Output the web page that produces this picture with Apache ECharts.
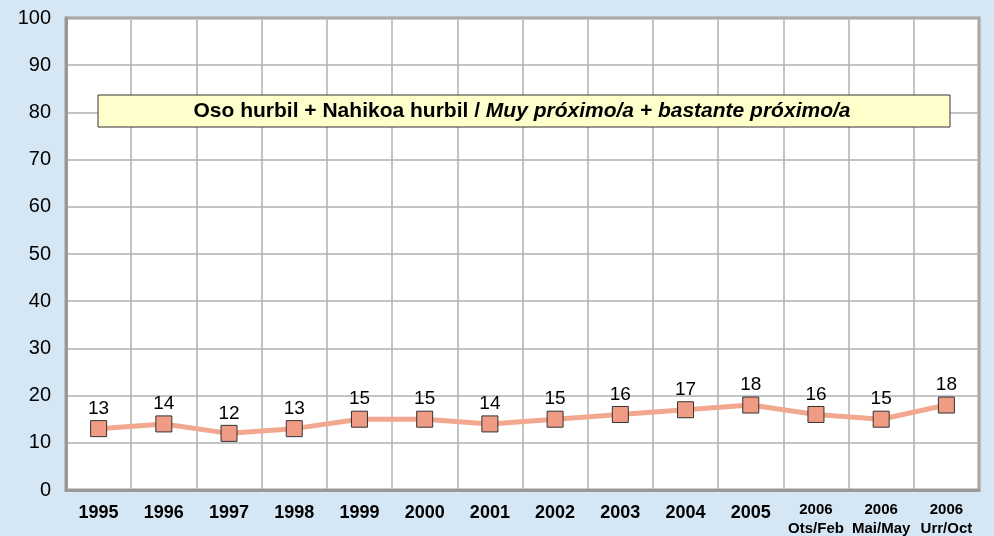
<!DOCTYPE html>
<html>
<head>
<meta charset="utf-8">
<script src="https://cdn.jsdelivr.net/npm/echarts@6/dist/echarts.min.js"></script>
<style>
  html, body { margin: 0; padding: 0; background: #d5e7f5; }
  #chart { width: 994px; height: 536px; }
</style>
</head>
<body>
<div id="chart"></div>
<script>
const categories = ["1995", "1996", "1997", "1998", "1999", "2000", "2001", "2002", "2003", "2004", "2005",
  "2006\nOts/Feb", "2006\nMai/May", "2006\nUrr/Oct"];
const values = [13, 14, 12, 13, 15, 15, 14, 15, 16, 17, 18, 16, 15, 18];
const titleMain = "Oso hurbil + Nahikoa hurbil / ";
const titleItalic = "Muy próximo/a + bastante próximo/a";

const chart = echarts.init(document.getElementById("chart"));

const option = {
  backgroundColor: "#d5e7f5",
  textStyle: { fontFamily: "Liberation Sans, Arial, sans-serif" },
  grid: {
    left: 66,
    top: 18,
    width: 913,
    height: 472,
    show: true,
    backgroundColor: "#ffffff",
    borderColor: "#999999",
    borderWidth: 3,
  },
  xAxis: {
    type: "category",
    boundaryGap: true,
    data: categories,
    axisLine: { show: true, lineStyle: { color: "#999999", width: 3 } },
    axisTick: { show: false },
    splitLine: { show: true, interval: 0, lineStyle: { color: "#b0b0b0", width: 1.5 } },
    axisLabel: {
      interval: 0,
      margin: 10,
      color: "#000",
      verticalAlign: "top",
      formatter: function (v) {
        if (v.indexOf("\n") < 0) return "{a|" + v + "}";
        return v.split("\n").map(s => "{s|" + s + "}").join("\n");
      },
      rich: {
        a: { fontSize: 18, fontWeight: "bold", color: "#000", lineHeight: 26 },
        s: { fontSize: 15, fontWeight: "bold", color: "#000", lineHeight: 19 },
      },
    },
  },
  yAxis: {
    type: "value",
    min: 0,
    max: 100,
    interval: 10,
    axisLine: { show: true, lineStyle: { color: "#999999", width: 3 } },
    axisTick: { show: false },
    splitLine: { show: true, lineStyle: { color: "#b0b0b0", width: 1.5 } },
    axisLabel: { margin: 15, color: "#000", fontSize: 20 },
  },
  graphic: [
    {
      type: "rect",
      shape: { x: 98, y: 95, width: 852, height: 32 },
      style: { fill: "#ffffcc", stroke: "#333333", lineWidth: 1 },
      z: 100,
    },
    {
      type: "text",
      x: 522,
      y: 111,
      z: 101,
      style: {
        text: "{b|" + titleMain + "}{i|" + titleItalic + "}",
        align: "center",
        verticalAlign: "middle",
        rich: {
          b: { fontSize: 21, fontWeight: "bold", fill: "#000", fontFamily: "Liberation Sans" },
          i: { fontSize: 21, fontWeight: "bold", fontStyle: "italic", fill: "#000", fontFamily: "Liberation Sans" },
        },
      },
    },
  ],
  series: [
    {
      type: "line",
      data: values,
      symbol: "rect",
      symbolSize: 16,
      lineStyle: { color: "#f2a88f", width: 5 },
      itemStyle: { color: "#f09c85", borderColor: "#333333", borderWidth: 1 },
      label: {
        show: true,
        position: "top",
        distance: 2,
        color: "#000",
        fontSize: 19,
      },
    },
  ],
};

chart.setOption(option);
</script>
</body>
</html>
